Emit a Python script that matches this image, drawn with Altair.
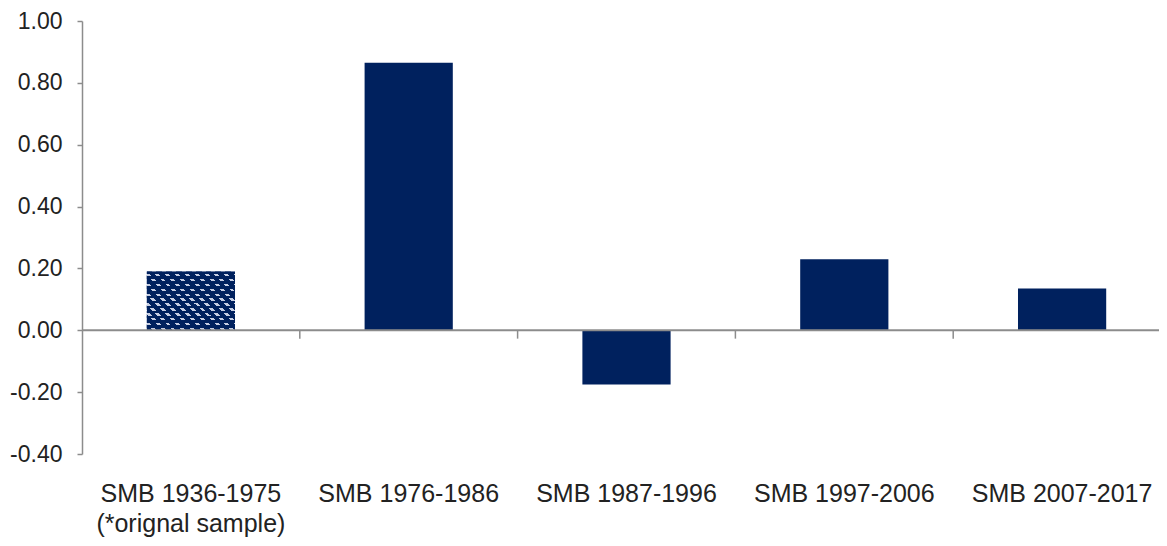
import altair as alt
import pandas as pd

categories = [
    "SMB 1936-1975|(*orignal sample)",
    "SMB 1976-1986",
    "SMB 1987-1996",
    "SMB 1997-2006",
    "SMB 2007-2017",
]
values = [0.19, 0.865, -0.175, 0.23, 0.135]
patterned = [True, False, False, False, False]
y_ticks = [-0.4, -0.2, 0.0, 0.2, 0.4, 0.6, 0.8, 1.0]

df = pd.DataFrame({"cat": categories, "value": values, "patterned": patterned})

NAVY = "#00215E"
LIGHT = "#c6cee3"
CLEAR = "rgba(0,33,94,0)"
AXIS_GRAY = "#8c8c8c"
TEXT = "#222222"
FONT = "Liberation Sans"


def stripe_stops(n, frac, c_a, c_b):
    stops = []
    for i in range(n):
        a = i / n
        m = (i + 1 - frac) / n
        b = (i + 1) / n
        stops += [
            alt.GradientStop(offset=a, color=c_a),
            alt.GradientStop(offset=m, color=c_a),
            alt.GradientStop(offset=m, color=c_b),
            alt.GradientStop(offset=b, color=c_b),
        ]
    return stops


# texture for the hatched bar: diagonal light stripes cut by horizontal navy rows
PW, PH = 88.0, 59.0
r = PH / PW
k = (PW + PH) / (PW * (1 + r * r))
diag_fill = alt.LinearGradient(
    gradient="linear",
    stops=stripe_stops(15, 0.4, NAVY, LIGHT),
    x1=0, y1=1, x2=k, y2=1 - k * r,
)
rows_fill = alt.LinearGradient(
    gradient="linear",
    stops=stripe_stops(12, 0.5, NAVY, CLEAR),
    x1=0, y1=0, x2=0, y2=1,
)

x_scale = alt.Scale(domain=categories, paddingInner=0, paddingOuter=0, range=[0, 1089])

x_enc = alt.X(
    "cat:N",
    sort=categories,
    title=None,
    scale=x_scale,
    axis=alt.Axis(
        domain=False,
        ticks=False,
        tickSize=0,
        labelAngle=0,
        labelFont=FONT,
        labelFontSize=25,
        labelColor=TEXT,
        labelPadding=27,
        labelLineHeight=30,
        labelLimit=0,
        labelExpr="split(datum.label, '|')",
        labelBaseline="top",
    ),
)
y_enc = alt.Y(
    "value:Q",
    title=None,
    scale=alt.Scale(domain=[-0.4, 1.0], nice=False, zero=False),
    axis=alt.Axis(
        values=y_ticks,
        format=".2f",
        labelExpr="replace(datum.label, '\u2212', '-')",
        grid=False,
        domainColor=AXIS_GRAY,
        domainWidth=1.5,
        tickColor=AXIS_GRAY,
        tickWidth=1.5,
        tickSize=5,
        labelFont=FONT,
        labelFontSize=23,
        labelColor=TEXT,
        labelPadding=15,
    ),
)

base = alt.Chart(df)

plain = base.transform_filter("!datum.patterned").mark_bar(
    color=NAVY, width=alt.RelativeBandSize(0.405)
).encode(x=x_enc, y=y_enc, y2=alt.datum(0))

pat_base = base.transform_filter("datum.patterned").mark_bar(
    color=diag_fill, width=alt.RelativeBandSize(0.405)
).encode(x=x_enc, y=y_enc, y2=alt.datum(0))

pat_over = base.transform_filter("datum.patterned").mark_bar(
    color=rows_fill, width=alt.RelativeBandSize(0.405)
).encode(x=x_enc, y=y_enc, y2=alt.datum(0))

zero_line = base.transform_aggregate(n="count()").mark_rule(
    color=AXIS_GRAY, strokeWidth=2
).encode(y=alt.datum(0), x=alt.value(0), x2=alt.value(1100))

bound_ticks = base.transform_window(idx="row_number()").transform_filter(
    "datum.idx > 1"
).mark_rule(color=AXIS_GRAY, strokeWidth=1.5).encode(
    x=alt.X("cat:N", sort=categories, scale=x_scale, bandPosition=0),
    y=alt.datum(0),
    y2=alt.datum(-0.027),
)

chart = (
    alt.layer(plain, pat_base, pat_over, zero_line, bound_ticks)
    .properties(
        width=1077,
        height=433,
        autosize=alt.AutoSizeParams(type="none"),
        padding={"left": 74, "top": 13, "right": 0, "bottom": 84},
        background="white",
    )
    .configure_view(stroke=None)
)

chart.save("out.html", embed_options={"renderer": "svg", "actions": False})
